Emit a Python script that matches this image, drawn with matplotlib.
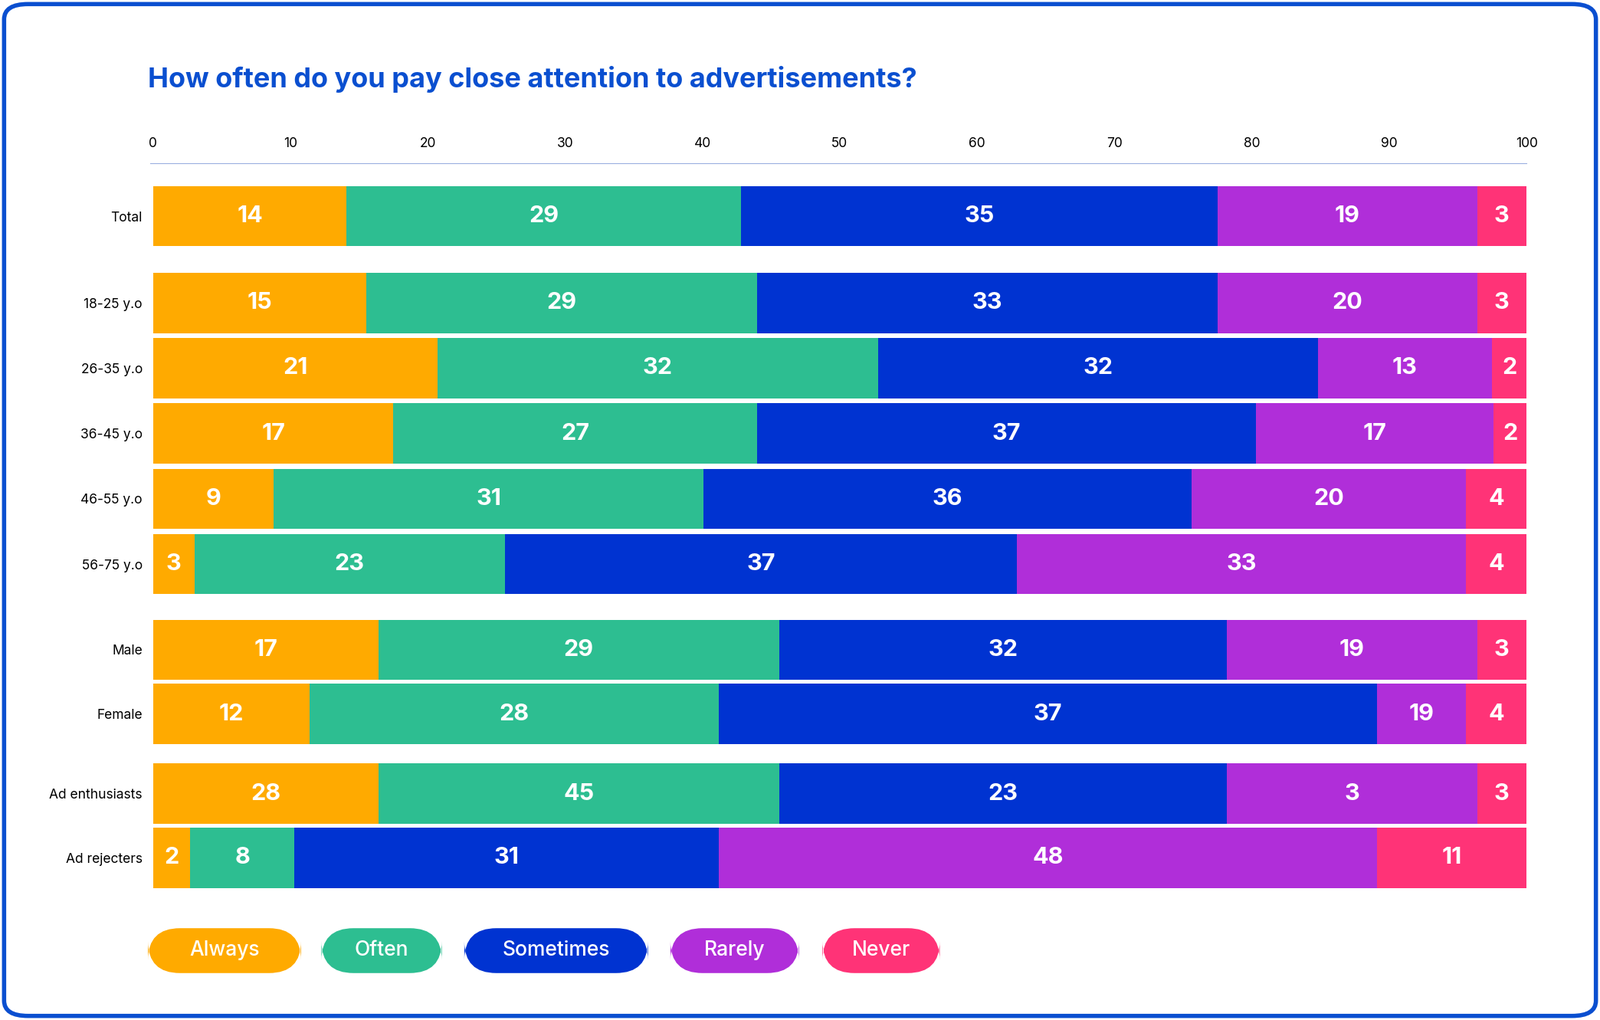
import matplotlib.pyplot as plt
from matplotlib.patches import FancyBboxPatch

categories = ["Total", "18-25 y.o", "26-35 y.o", "36-45 y.o", "46-55 y.o", "56-75 y.o",
              "Male", "Female", "Ad enthusiasts", "Ad rejecters"]
series = ["Always", "Often", "Sometimes", "Rarely", "Never"]
# printed labels
labels = [
    [14, 29, 35, 19, 3],
    [15, 29, 33, 20, 3],
    [21, 32, 32, 13, 2],
    [17, 27, 37, 17, 2],
    [9, 31, 36, 20, 4],
    [3, 23, 37, 33, 4],
    [17, 29, 32, 19, 3],
    [12, 28, 37, 19, 4],
    [28, 45, 23, 3, 3],
    [2, 8, 31, 48, 11],
]
# segment widths as drawn in the picture
widths = [
    [14.1, 28.7, 34.7, 18.9, 3.6],
    [15.5, 28.5, 33.5, 18.9, 3.6],
    [20.7, 32.1, 32.0, 12.7, 2.5],
    [17.5, 26.5, 36.3, 17.3, 2.4],
    [8.8, 31.3, 35.5, 20.0, 4.4],
    [3.0, 22.6, 37.3, 32.7, 4.4],
    [16.4, 29.2, 32.6, 18.2, 3.6],
    [11.4, 29.8, 47.9, 6.5, 4.4],
    [16.4, 29.2, 32.6, 18.2, 3.6],
    [2.7, 7.6, 30.9, 47.9, 10.9],
]
row_y = [212, 297, 361, 425, 489, 553, 637, 700, 778, 841]
colors = ["#FFAA00", "#2DBE91", "#0033D1", "#B02ED9", "#FF3377"]
font = "Inter"

fig = plt.figure(figsize=(20.88, 13.31), dpi=100)
W, H = 1568.0, 1000.0

# outer rounded frame
fig.patches.append(FancyBboxPatch((4 / W, 4 / H), 1 - 8 / W, 1 - 8 / H,
                                  boxstyle="round,pad=0,rounding_size=0.015",
                                  transform=fig.transFigure, fill=False,
                                  edgecolor="#0A4FD0", linewidth=4))

fig.text(145 / W, 1 - 78 / H, "How often do you pay close attention to advertisements?",
         fontsize=26, fontweight="bold", color="#0A4FD0", family=font, va="center")

ax = fig.add_axes([150 / W, 1 - 875 / H, (1496 - 150) / W, (875 - 160) / H])
ax.set_xlim(0, 100)
ax.set_ylim(875, 160)
for i, cat in enumerate(categories):
    left = 0
    for j in range(len(series)):
        w = widths[i][j]
        ax.barh(row_y[i], w, left=left, height=59, color=colors[j], linewidth=0)
        ax.text(left + w / 2, row_y[i], str(labels[i][j]), ha="center", va="center",
                color="white", fontsize=22, fontweight="bold", family=font)
        left += w
ax.set_yticks(row_y)
ax.set_yticklabels(categories, fontsize=12.5, family=font)
ax.set_xticks(range(0, 101, 10))
ax.xaxis.tick_top()
ax.tick_params(axis="x", length=0, labelsize=12.5, pad=12)
ax.tick_params(axis="y", length=0, pad=10)
for lab in ax.get_xticklabels():
    lab.set_family(font)
for s in ["right", "bottom", "left"]:
    ax.spines[s].set_visible(False)
ax.spines["top"].set_color("#9AAFE0")
ax.spines["top"].set_bounds(-0.2, 100)

# legend pills
pills = [(145, 295), (315, 433), (455, 635), (657, 783), (806, 921)]
for (x0, x1), name, c in zip(pills, series, colors):
    fig.patches.append(FancyBboxPatch((x0 / W, 1 - 954 / H), (x1 - x0) / W, 44 / H,
                                      boxstyle="round,pad=0,rounding_size=0.02",
                                      transform=fig.transFigure, facecolor=c,
                                      edgecolor="none", mutation_aspect=W / H))
    fig.text((x0 + x1) / 2 / W, 1 - 932 / H, name, ha="center", va="center",
             color="white", fontsize=19, family=font, fontweight="medium")

fig.savefig("out.png", dpi=100)
